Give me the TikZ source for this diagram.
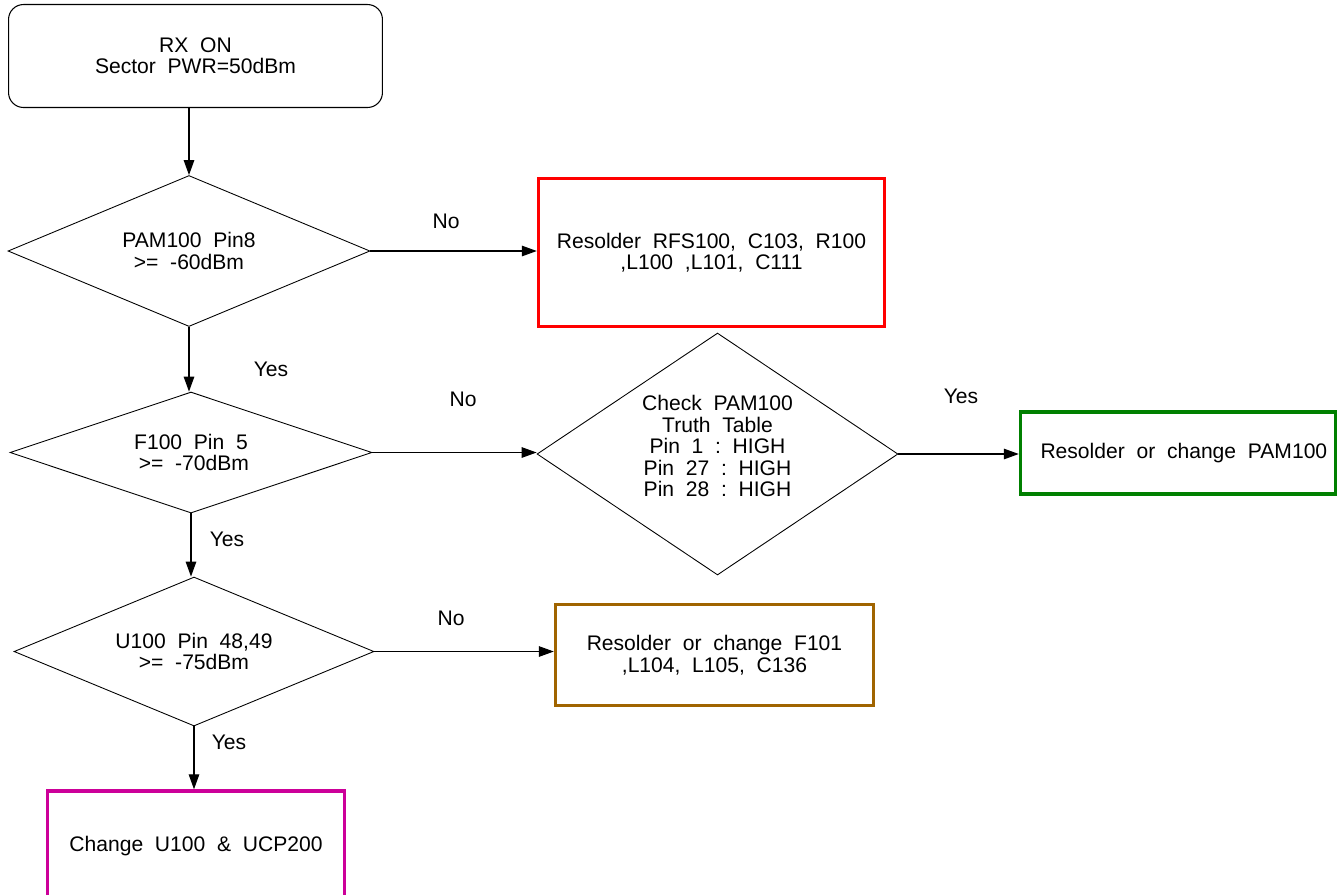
\documentclass[tikz,border=0pt]{standalone}
\usepackage{fontspec}
\setmainfont{Liberation Sans}
\usetikzlibrary{shapes.geometric,arrows.meta}
\definecolor{cred}{RGB}{255,0,0}
\definecolor{cgreen}{RGB}{0,128,0}
\definecolor{cbrown}{RGB}{160,100,0}
\definecolor{cmag}{RGB}{204,0,153}
\begin{document}
\begin{tikzpicture}[x=0.02cm,y=-0.02cm,
  every node/.style={font=\fontsize{12}{12.2}\selectfont, align=center},
  startbox/.style={draw, line width=0.6pt, rounded corners=0.3cm, inner sep=0pt},
  decision/.style={draw, line width=0.5pt, diamond, inner sep=0pt},
  result/.style={draw, line width=2pt, rectangle, inner sep=0pt},
  arr/.style={line width=0.6pt, -{Triangle[length=8.5pt,width=6pt]}},
  lbl/.style={inner sep=0pt}]
\clip (0,0) rectangle (1341,894);
\node[startbox, minimum width=7.48cm, minimum height=2.06cm] (start) at (195.5,56) {RX~~ON\\Sector~~PWR=50dBm};
\node[decision, shape aspect=2.4, minimum width=7.24cm, minimum height=3.02cm] (d1) at (189,251) {PAM100~~Pin8\\{>}=~~-60dBm};
\node[result, draw=cred, minimum width=6.92cm, minimum height=2.96cm] (red) at (711.5,252.5) {Resolder~~RFS100,~~C103,~~R100\\,L100~~,L101,~~C111};
\node[decision, shape aspect=3, minimum width=7.24cm, minimum height=2.42cm] (d2) at (191,452.5) {F100~~Pin~~5\\~{>}=~~-70dBm};
\node[decision, shape aspect=1.49, minimum width=7.22cm, minimum height=4.84cm] (d3) at (717.5,454) {Check~~PAM100\\Truth~~Table\\Pin~~1~~:~~HIGH\\Pin~~27~~:~~HIGH\\Pin~~28~~:~~HIGH\\[-3.2pt]};
\node[result, draw=cgreen, minimum width=6.3cm, minimum height=1.64cm] (green) at (1178,453) {~~Resolder~~or~~change~~PAM100};
\node[decision, shape aspect=2.42, minimum width=7.2cm, minimum height=2.98cm] (d4) at (194,651.5) {U100~~Pin~~48,49\\{>}=~~-75dBm};
\node[result, draw=cbrown, minimum width=6.36cm, minimum height=2.02cm] (brown) at (714.5,655) {Resolder~~or~~change~~F101\\,L104,~~L105,~~C136};
\node[result, draw=cmag, minimum width=5.94cm, minimum height=2.4cm] (mag) at (196,851) {Change~~U100~~\&~~UCP200\\[-4pt]};

\draw[arr] (d1.north |- start.south) -- (d1.north);
\draw[arr] (d1.east) -- (d1.east -| red.west);
\draw[arr] (d1.south) -- (d1.south |- d2.north);
\draw[arr] (d2.east) -- (d2.east -| d3.west);
\draw[arr] (d3.east) -- (d3.east -| green.west);
\draw[arr] (d2.south) -- (d2.south |- d4.north);
\draw[arr] (d4.east) -- (d4.east -| brown.west);
\draw[arr] (d4.south) -- (d4.south |- mag.north);

\node[lbl] (n1) at (446,221) {No};
\node[lbl] (y1) at (271,369) {Yes};
\node[lbl] (n2) at (463,399) {No};
\node[lbl] (y2) at (961,396) {Yes};
\node[lbl] (y3) at (227,539) {Yes};
\node[lbl] (n3) at (451,618) {No};
\node[lbl] (y4) at (229,742) {Yes};
\end{tikzpicture}
\end{document}
